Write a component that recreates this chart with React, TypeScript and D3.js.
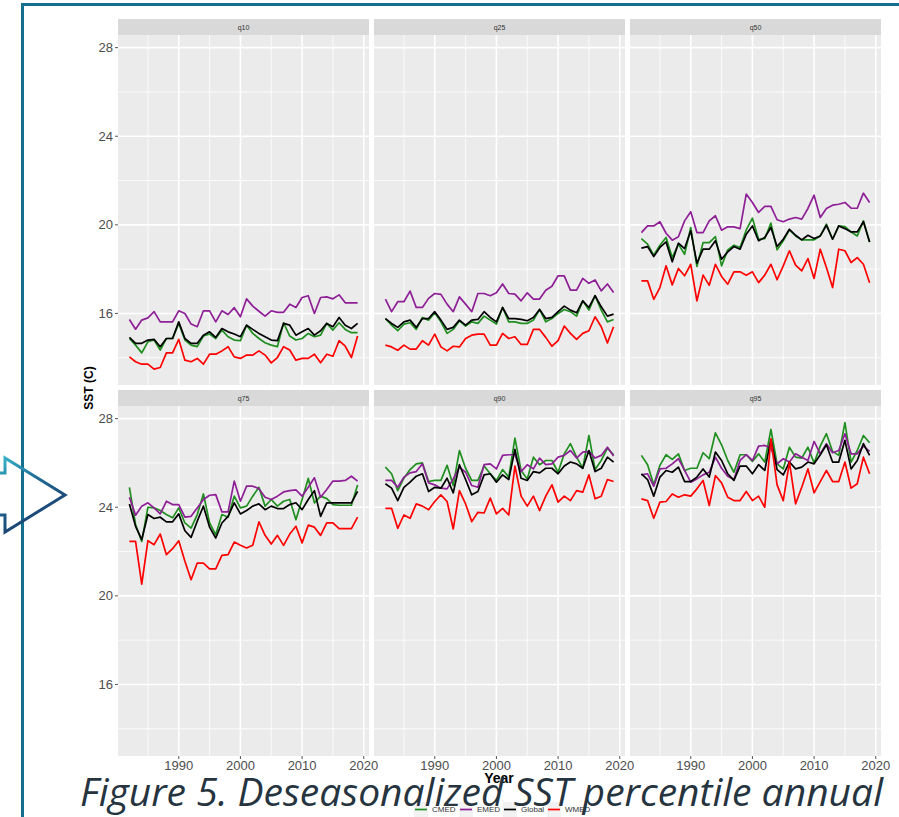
import React from "react";
import * as d3 from "d3";

const years = [1982,1983,1984,1985,1986,1987,1988,1989,1990,1991,1992,1993,1994,1995,1996,1997,1998,1999,2000,2001,2002,2003,2004,2005,2006,2007,2008,2009,2010,2011,2012,2013,2014,2015,2016,2017,2018,2019];

const regions = ["CMED", "EMED", "Global", "WMED"];
const panelNames = ["q10", "q25", "q50", "q75", "q90", "q95"];
const yTicks = [16, 20, 24, 28];
const yMinor = [14, 18, 22, 26];
const xTicks = [1990, 2000, 2010, 2020];
const xMinor = [1985, 1995, 2005, 2015];

const q10_CMED = [14.87,14.57,14.22,14.72,14.8,14.35,14.87,14.87,15.55,14.8,14.57,14.5,14.98,15.07,14.87,15.25,14.95,14.8,14.77,15.47,15.1,14.87,14.68,14.57,14.5,15.58,14.98,14.8,14.87,15.1,14.95,15.02,15.55,15.25,15.58,15.28,15.13,15.13];
const q10_EMED = [15.73,15.29,15.7,15.8,16.08,15.62,15.62,15.62,16.12,16.0,15.52,15.4,16.12,16.12,15.62,16.12,15.95,16.26,15.85,16.66,16.33,16.1,15.88,16.12,16.05,16.05,16.42,16.27,16.72,16.8,16.0,16.72,16.75,16.66,16.84,16.48,16.48,16.48];
const q10_Global = [14.92,14.65,14.65,14.8,14.83,14.5,14.87,14.87,15.62,14.87,14.65,14.65,15.02,15.17,14.92,15.32,15.17,15.07,14.95,15.47,15.28,15.1,14.95,14.8,14.77,15.55,15.47,15.02,15.17,15.32,15.02,15.22,15.55,15.4,15.82,15.47,15.32,15.55];
const q10_WMED = [14.04,13.82,13.71,13.71,13.49,13.56,14.22,14.22,14.83,13.89,13.82,13.97,13.71,14.16,14.16,14.31,14.5,14.04,13.97,14.12,14.12,14.31,14.12,13.77,14.01,14.5,14.35,13.89,13.97,13.97,14.16,13.77,14.16,14.07,14.77,14.52,14.01,14.98];

const q25_CMED = [15.77,15.47,15.22,15.52,15.58,15.28,15.82,15.7,16.03,15.62,15.1,15.28,15.67,15.43,15.62,15.55,15.88,15.7,15.52,16.27,15.62,15.62,15.55,15.55,15.7,16.18,15.62,15.77,16.0,16.18,16.08,15.88,16.57,16.15,16.8,16.15,15.62,15.73];
const q25_EMED = [16.65,16.08,16.53,16.53,17.01,16.27,16.27,16.68,16.9,16.86,16.42,16.08,16.75,16.42,16.08,16.9,16.9,16.8,16.93,17.33,16.9,16.87,16.57,16.93,16.65,16.65,17.05,17.23,17.7,17.7,17.05,17.05,17.58,17.36,17.51,17.02,17.33,16.95];
const q25_Global = [15.77,15.55,15.37,15.62,15.7,15.37,15.77,15.77,16.08,15.7,15.28,15.37,15.7,15.47,15.7,15.73,16.08,15.82,15.62,16.27,15.77,15.77,15.73,15.67,15.82,16.18,15.77,15.82,16.08,16.33,16.15,16.03,16.57,16.27,16.8,16.3,15.88,15.97];
const q25_WMED = [14.57,14.49,14.34,14.57,14.39,14.39,14.77,14.57,15.07,14.49,14.31,14.52,14.49,14.87,15.02,15.07,15.07,14.57,14.57,15.1,14.87,14.95,14.6,14.6,15.28,15.28,14.92,14.52,14.77,15.43,15.1,14.83,15.1,15.22,15.85,15.4,14.67,15.4];

const q50_CMED = [19.38,19.13,18.63,19.08,19.43,18.52,19.13,18.67,19.88,18.12,19.2,19.2,19.47,18.15,18.87,19.08,18.98,19.77,20.3,19.35,19.38,20.08,18.87,19.28,19.77,19.5,19.32,19.32,19.32,19.5,20.03,19.35,19.95,19.92,19.68,19.5,20.18,19.23];
const q50_EMED = [19.65,19.95,19.95,20.14,19.62,19.31,19.46,20.18,20.59,19.65,19.65,20.18,20.41,19.76,19.91,19.91,19.83,21.39,21.01,20.56,20.83,20.83,20.23,20.14,20.26,20.33,20.26,20.74,21.34,20.33,20.74,20.89,20.93,21.01,20.75,20.75,21.43,21.01];
const q50_Global = [18.95,19.02,18.57,18.98,19.23,18.33,19.17,18.93,19.73,18.27,18.9,18.9,19.28,18.45,18.78,19.02,18.9,19.58,19.95,19.28,19.43,19.88,19.02,19.35,19.8,19.53,19.32,19.53,19.38,19.5,19.98,19.35,19.95,19.83,19.68,19.68,20.14,19.23];
const q50_WMED = [17.47,17.47,16.64,17.17,18.15,17.29,18.03,17.7,18.22,16.57,17.73,17.27,18.22,17.67,17.32,17.88,17.88,17.73,17.88,17.39,17.73,18.22,17.52,18.15,18.83,18.18,17.92,18.48,17.58,18.9,18.07,17.17,18.9,18.83,18.3,18.52,18.22,17.39];

const q75_CMED = [24.9,23.22,22.46,24.0,23.97,23.85,23.67,23.52,23.97,23.29,23.06,23.67,24.6,23.29,22.76,23.67,23.55,24.5,23.97,24.05,24.5,24.9,24.05,24.35,24.05,24.27,24.35,23.44,24.35,25.3,24.2,24.5,24.39,24.12,24.09,24.09,24.09,25.0];
const q75_EMED = [24.45,23.64,24.05,24.2,23.97,23.7,24.27,24.12,24.12,23.55,23.59,23.97,24.35,24.54,24.57,23.79,23.79,25.18,24.27,24.95,24.95,24.84,24.45,24.35,24.5,24.69,24.75,24.78,24.5,24.9,25.33,24.45,24.8,25.18,25.18,25.21,25.4,25.18];
const q75_Global = [24.15,23.14,22.54,23.67,23.49,23.55,23.34,23.34,23.7,22.94,22.64,23.37,24.05,23.1,22.61,23.29,23.59,24.2,23.7,23.85,24.05,24.15,23.89,24.05,23.94,23.94,24.12,24.2,23.89,24.35,24.75,23.59,24.2,24.2,24.2,24.2,24.2,24.72];
const q75_WMED = [22.46,22.46,20.53,22.49,22.31,22.79,21.86,22.13,22.49,21.56,20.73,21.48,21.48,21.22,21.22,21.83,21.86,22.43,22.28,22.16,22.28,23.34,22.73,22.34,22.73,22.28,22.79,23.14,22.39,23.19,23.1,22.73,23.29,23.29,23.03,23.03,23.03,23.55];

const q90_CMED = [25.81,25.51,24.75,25.31,25.7,25.96,26.0,25.16,25.21,25.21,25.89,24.98,26.56,25.76,25.21,25.21,25.86,25.51,25.21,25.7,25.36,27.12,25.66,25.28,26.26,25.92,26.11,26.11,25.58,26.41,26.87,26.26,25.76,27.24,25.7,26.11,26.67,26.37];
const q90_EMED = [25.21,25.21,24.9,25.36,25.55,25.61,25.96,25.1,25.01,24.86,24.83,25.28,25.81,25.58,24.98,24.9,25.92,25.96,25.73,26.34,26.37,26.37,25.61,25.92,25.73,26.22,25.92,25.96,26.26,26.34,26.56,26.22,26.49,26.52,26.22,26.34,26.71,26.31];
const q90_Global = [25.06,24.86,24.3,24.9,25.13,25.4,25.51,24.71,24.9,24.86,25.31,24.65,25.92,25.25,24.56,24.71,25.46,25.51,25.13,25.46,25.25,26.61,25.31,25.21,25.61,25.55,25.76,25.76,25.51,25.86,26.04,25.96,25.76,26.56,25.61,25.76,26.26,26.04];
const q90_WMED = [23.95,23.95,23.05,23.65,23.5,24.15,24.05,23.89,24.26,24.56,24.26,23.02,24.75,24.15,23.35,23.77,23.74,24.41,23.7,23.95,23.65,25.86,24.5,24.05,24.5,23.85,24.5,25.01,24.23,24.5,24.3,24.75,24.68,25.46,24.38,24.5,25.25,25.16];

const q95_CMED = [26.34,25.92,25.01,25.89,26.37,26.16,26.41,25.66,25.76,25.76,26.46,26.19,27.36,26.82,26.11,25.58,26.37,26.37,26.07,26.41,26.04,27.51,25.96,25.73,26.71,26.26,26.22,26.71,26.0,26.76,27.32,26.52,26.34,27.82,26.04,26.56,27.24,26.91];
const q95_EMED = [25.46,25.51,24.95,25.73,25.76,25.96,26.19,25.66,25.13,25.28,25.46,25.58,26.26,25.76,25.4,25.25,26.11,26.37,26.11,26.76,26.79,26.67,25.96,26.19,26.04,26.41,26.26,26.11,26.97,26.41,26.87,26.46,26.56,27.32,26.41,26.41,26.76,26.52];
const q95_Global = [25.51,25.25,24.5,25.36,25.66,25.58,25.81,25.16,25.16,25.36,25.73,25.36,26.49,26.11,25.51,25.21,25.86,25.86,25.51,25.92,25.66,27.06,25.7,25.46,26.04,25.73,25.81,26.04,25.96,26.37,26.82,26.04,26.04,27.02,25.73,26.11,26.87,26.34];
const q95_WMED = [24.38,24.3,23.5,24.23,24.26,24.6,24.45,24.56,24.5,24.83,25.21,24.08,25.43,25.1,24.45,24.3,24.3,24.71,24.3,24.5,24.0,27.09,25.01,24.3,26.04,24.15,24.9,25.73,24.65,25.16,25.66,25.16,25.16,26.04,24.86,25.06,26.26,25.51];

const panelSeries: Record<string, number[][]> = {
  q10: [q10_CMED, q10_EMED, q10_Global, q10_WMED],
  q25: [q25_CMED, q25_EMED, q25_Global, q25_WMED],
  q50: [q50_CMED, q50_EMED, q50_Global, q50_WMED],
  q75: [q75_CMED, q75_EMED, q75_Global, q75_WMED],
  q90: [q90_CMED, q90_EMED, q90_Global, q90_WMED],
  q95: [q95_CMED, q95_EMED, q95_Global, q95_WMED],
};

const colors = ["#1f8f1f", "#8e1f96", "#000000", "#ff0000"];

const colLefts = [118, 374, 630];
const panelW = 251;
const stripTops = [19, 390];
const stripH = 16;
const panelH = 350;

export default function App() {
  const x = d3.scaleLinear().domain([1980.15, 2020.85]).range([0, panelW]);
  const y = d3.scaleLinear().domain([12.77, 28.57]).range([panelH, 0]);
  const line = d3
    .line<number>()
    .x((_, i) => x(years[i]))
    .y((d) => y(d));

  const tickFont = "Liberation Sans, Arial, sans-serif";

  return (
    <svg width={899} height={817} style={{ position: "absolute", left: 0, top: 0, background: "#fff" }}>
      <defs>
        <linearGradient id="arrowGrad" x1="0" y1="0" x2="0.5" y2="1">
          <stop offset="0%" stopColor="#38b6cc" />
          <stop offset="45%" stopColor="#1f6c95" />
          <stop offset="100%" stopColor="#1b3a6b" />
        </linearGradient>
      </defs>
      <rect x={0} y={0} width={899} height={817} fill="#ffffff" />
      {/* outer frame */}
      <path d="M899,4.5 L22.5,4.5 L22.5,817" fill="none" stroke="#15708f" strokeWidth={3} />
      {/* arrow */}
      <path
        d="M-2,473 L5,473 L5,458 L65,495 L5,532 L5,515 L-2,515"
        fill="none"
        stroke="url(#arrowGrad)"
        strokeWidth={3}
        strokeLinejoin="miter"
      />

      {panelNames.map((name, p) => {
        const col = p % 3;
        const row = Math.floor(p / 3);
        const left = colLefts[col];
        const stripTop = stripTops[row];
        const top = stripTop + stripH;
        const series = panelSeries[name];
        return (
          <g key={name}>
            <rect x={left} y={stripTop} width={panelW} height={stripH} fill="#d9d9d9" />
            <text
              x={left + panelW / 2}
              y={stripTop + stripH / 2 + 2.5}
              textAnchor="middle"
              fontFamily={tickFont}
              fontSize={7}
              fill="#333"
            >
              {name}
            </text>
            <g transform={`translate(${left},${top})`}>
              <rect x={0} y={0} width={panelW} height={panelH} fill="#ebebeb" />
              {yMinor.map((v) => (
                <line key={"ym" + v} x1={0} x2={panelW} y1={y(v)} y2={y(v)} stroke="#fff" strokeWidth={0.8} />
              ))}
              {xMinor.map((v) => (
                <line key={"xm" + v} x1={x(v)} x2={x(v)} y1={0} y2={panelH} stroke="#fff" strokeWidth={0.8} />
              ))}
              {yTicks.map((v) => (
                <line key={"yM" + v} x1={0} x2={panelW} y1={y(v)} y2={y(v)} stroke="#fff" strokeWidth={1.6} />
              ))}
              {xTicks.map((v) => (
                <line key={"xM" + v} x1={x(v)} x2={x(v)} y1={0} y2={panelH} stroke="#fff" strokeWidth={1.6} />
              ))}
              {series.map((s, k) => (
                <path key={regions[k]} d={line(s) || ""} fill="none" stroke={colors[k]} strokeWidth={1.7} strokeLinejoin="round" />
              ))}
              {col === 0 &&
                yTicks.map((v) => (
                  <g key={"yt" + v}>
                    <line x1={-3} x2={0} y1={y(v)} y2={y(v)} stroke="#555" strokeWidth={1} />
                    <text x={-5} y={y(v) + 4.5} textAnchor="end" fontFamily={tickFont} fontSize={13} fill="#4d4d4d">
                      {v}
                    </text>
                  </g>
                ))}
              {row === 1 &&
                xTicks.map((v) => (
                  <g key={"xt" + v}>
                    <line x1={x(v)} x2={x(v)} y1={panelH} y2={panelH + 3} stroke="#555" strokeWidth={1} />
                    <text x={x(v)} y={panelH + 14} textAnchor="middle" fontFamily={tickFont} fontSize={13} fill="#4d4d4d">
                      {v}
                    </text>
                  </g>
                ))}
            </g>
          </g>
        );
      })}

      {/* axis titles */}
      <text
        transform="translate(93,388) rotate(-90)"
        textAnchor="middle"
        fontFamily={tickFont}
        fontWeight="bold"
        fontSize={12}
        fill="#000"
      >
        SST (C)
      </text>
      <text x={499} y={783} textAnchor="middle" fontFamily={tickFont} fontWeight="bold" fontSize={14} fill="#000">
        Year
      </text>

      {/* legend */}
      {regions.map((r, k) => {
        const lx = [414, 459, 503, 547][k];
        return (
          <g key={"lg" + r}>
            <rect x={lx} y={802} width={14} height={15} fill="#f2f2f2" />
            <line x1={lx + 1} x2={lx + 13} y1={809.5} y2={809.5} stroke={colors[k]} strokeWidth={1.7} />
            <text x={lx + 18} y={812} fontFamily={tickFont} fontSize={8} fill="#333">
              {r}
            </text>
          </g>
        );
      })}

      {/* caption overlay */}
      <text
        x={80}
        y={806}
        fontFamily="'Open Sans', 'DejaVu Sans', sans-serif"
        fontStyle="italic"
        fontSize={39}
        fill="#263440"
      >
        Figure 5. Deseasonalized SST percentile annual
      </text>
    </svg>
  );
}
